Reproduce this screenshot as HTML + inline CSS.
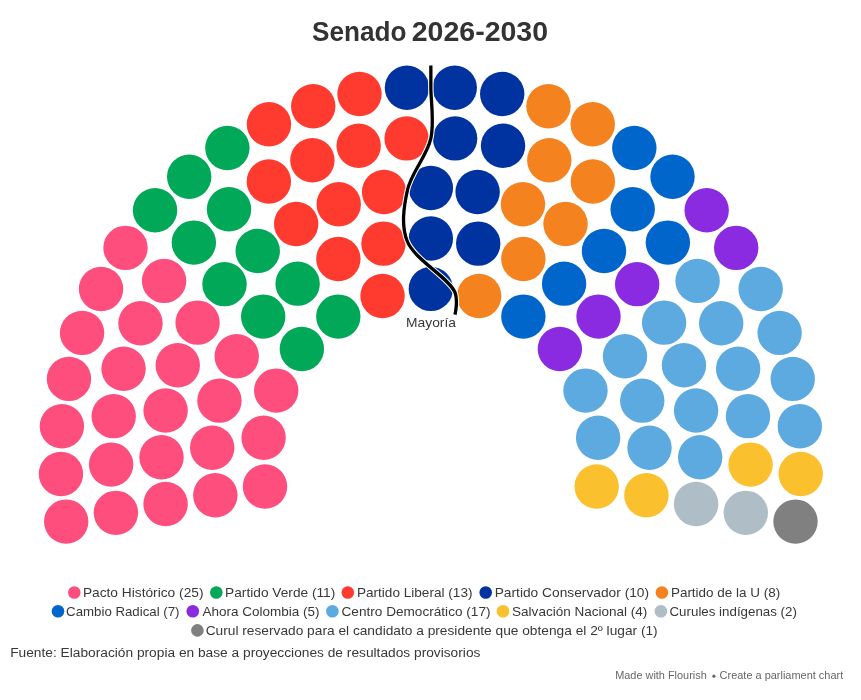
<!DOCTYPE html>
<html><head><meta charset="utf-8"><style>
html,body{margin:0;padding:0;background:#fff;width:861px;height:700px;overflow:hidden}
svg{display:block;will-change:transform}
text{font-family:"Liberation Sans", sans-serif}
</style></head><body>
<svg width="861" height="700" viewBox="0 0 861 700">
<g>
<circle cx="265.01" cy="486.54" r="22.20" fill="#FD4E7E"/>
<circle cx="215.31" cy="495.31" r="22.20" fill="#FD4E7E"/>
<circle cx="165.60" cy="504.07" r="22.20" fill="#FD4E7E"/>
<circle cx="115.90" cy="512.83" r="22.20" fill="#FD4E7E"/>
<circle cx="66.20" cy="521.60" r="22.20" fill="#FD4E7E"/>
<circle cx="60.95" cy="474.05" r="22.20" fill="#FD4E7E"/>
<circle cx="111.12" cy="464.58" r="22.20" fill="#FD4E7E"/>
<circle cx="161.51" cy="457.30" r="22.20" fill="#FD4E7E"/>
<circle cx="212.19" cy="447.75" r="22.20" fill="#FD4E7E"/>
<circle cx="61.88" cy="426.22" r="22.20" fill="#FD4E7E"/>
<circle cx="263.59" cy="437.75" r="22.20" fill="#FD4E7E"/>
<circle cx="113.70" cy="416.16" r="22.20" fill="#FD4E7E"/>
<circle cx="165.60" cy="410.53" r="22.20" fill="#FD4E7E"/>
<circle cx="68.96" cy="378.91" r="22.20" fill="#FD4E7E"/>
<circle cx="219.44" cy="400.65" r="22.20" fill="#FD4E7E"/>
<circle cx="123.56" cy="368.68" r="22.20" fill="#FD4E7E"/>
<circle cx="82.09" cy="332.91" r="22.20" fill="#FD4E7E"/>
<circle cx="177.75" cy="365.18" r="22.20" fill="#FD4E7E"/>
<circle cx="276.22" cy="390.60" r="22.20" fill="#FD4E7E"/>
<circle cx="140.49" cy="323.24" r="22.20" fill="#FD4E7E"/>
<circle cx="101.04" cy="288.98" r="22.20" fill="#FD4E7E"/>
<circle cx="236.71" cy="356.24" r="22.20" fill="#FD4E7E"/>
<circle cx="197.59" cy="322.63" r="22.20" fill="#FD4E7E"/>
<circle cx="164.10" cy="280.89" r="22.20" fill="#FD4E7E"/>
<circle cx="125.49" cy="247.87" r="22.20" fill="#FD4E7E"/>
<circle cx="301.85" cy="349.05" r="22.20" fill="#00A858"/>
<circle cx="263.19" cy="316.61" r="22.20" fill="#00A858"/>
<circle cx="224.52" cy="284.17" r="22.20" fill="#00A858"/>
<circle cx="155.04" cy="210.25" r="22.20" fill="#00A858"/>
<circle cx="193.84" cy="242.58" r="22.20" fill="#00A858"/>
<circle cx="189.19" cy="176.75" r="22.20" fill="#00A858"/>
<circle cx="257.72" cy="250.97" r="22.20" fill="#00A858"/>
<circle cx="229.02" cy="209.22" r="22.20" fill="#00A858"/>
<circle cx="297.61" cy="283.66" r="22.20" fill="#00A858"/>
<circle cx="338.31" cy="316.60" r="22.20" fill="#00A858"/>
<circle cx="227.38" cy="147.94" r="22.20" fill="#00A858"/>
<circle cx="268.85" cy="181.56" r="22.20" fill="#FF3B30"/>
<circle cx="296.18" cy="224.04" r="22.20" fill="#FF3B30"/>
<circle cx="268.96" cy="124.28" r="22.20" fill="#FF3B30"/>
<circle cx="338.35" cy="258.94" r="22.20" fill="#FF3B30"/>
<circle cx="312.40" cy="160.23" r="22.20" fill="#FF3B30"/>
<circle cx="338.73" cy="204.20" r="22.20" fill="#FF3B30"/>
<circle cx="313.24" cy="106.19" r="22.20" fill="#FF3B30"/>
<circle cx="382.55" cy="295.97" r="22.20" fill="#FF3B30"/>
<circle cx="358.67" cy="145.74" r="22.20" fill="#FF3B30"/>
<circle cx="383.48" cy="243.62" r="22.20" fill="#FF3B30"/>
<circle cx="359.49" cy="93.96" r="22.20" fill="#FF3B30"/>
<circle cx="384.08" cy="192.05" r="22.20" fill="#FF3B30"/>
<circle cx="406.60" cy="138.41" r="22.20" fill="#FF3B30"/>
<circle cx="406.93" cy="87.79" r="22.20" fill="#0033A0"/>
<circle cx="430.85" cy="288.90" r="22.20" fill="#0033A0"/>
<circle cx="430.85" cy="238.43" r="22.20" fill="#0033A0"/>
<circle cx="430.85" cy="187.96" r="22.20" fill="#0033A0"/>
<circle cx="454.77" cy="87.79" r="22.20" fill="#0033A0"/>
<circle cx="455.10" cy="138.41" r="22.20" fill="#0033A0"/>
<circle cx="477.62" cy="192.05" r="22.20" fill="#0033A0"/>
<circle cx="502.21" cy="93.96" r="22.20" fill="#0033A0"/>
<circle cx="478.22" cy="243.62" r="22.20" fill="#0033A0"/>
<circle cx="503.03" cy="145.74" r="22.20" fill="#0033A0"/>
<circle cx="479.15" cy="295.97" r="22.20" fill="#F4831F"/>
<circle cx="548.46" cy="106.19" r="22.20" fill="#F4831F"/>
<circle cx="522.97" cy="204.20" r="22.20" fill="#F4831F"/>
<circle cx="549.30" cy="160.23" r="22.20" fill="#F4831F"/>
<circle cx="523.35" cy="258.94" r="22.20" fill="#F4831F"/>
<circle cx="592.74" cy="124.28" r="22.20" fill="#F4831F"/>
<circle cx="565.52" cy="224.04" r="22.20" fill="#F4831F"/>
<circle cx="592.85" cy="181.56" r="22.20" fill="#F4831F"/>
<circle cx="523.39" cy="316.60" r="22.20" fill="#0066CC"/>
<circle cx="634.32" cy="147.94" r="22.20" fill="#0066CC"/>
<circle cx="564.09" cy="283.66" r="22.20" fill="#0066CC"/>
<circle cx="632.68" cy="209.22" r="22.20" fill="#0066CC"/>
<circle cx="603.98" cy="250.97" r="22.20" fill="#0066CC"/>
<circle cx="672.51" cy="176.75" r="22.20" fill="#0066CC"/>
<circle cx="667.86" cy="242.58" r="22.20" fill="#0066CC"/>
<circle cx="706.66" cy="210.25" r="22.20" fill="#8A2BE2"/>
<circle cx="559.85" cy="349.05" r="22.20" fill="#8A2BE2"/>
<circle cx="598.51" cy="316.61" r="22.20" fill="#8A2BE2"/>
<circle cx="637.18" cy="284.17" r="22.20" fill="#8A2BE2"/>
<circle cx="736.21" cy="247.87" r="22.20" fill="#8A2BE2"/>
<circle cx="697.60" cy="280.89" r="22.20" fill="#5DAAE1"/>
<circle cx="664.11" cy="322.63" r="22.20" fill="#5DAAE1"/>
<circle cx="624.99" cy="356.24" r="22.20" fill="#5DAAE1"/>
<circle cx="760.66" cy="288.98" r="22.20" fill="#5DAAE1"/>
<circle cx="721.21" cy="323.24" r="22.20" fill="#5DAAE1"/>
<circle cx="585.48" cy="390.60" r="22.20" fill="#5DAAE1"/>
<circle cx="683.95" cy="365.18" r="22.20" fill="#5DAAE1"/>
<circle cx="779.61" cy="332.91" r="22.20" fill="#5DAAE1"/>
<circle cx="738.14" cy="368.68" r="22.20" fill="#5DAAE1"/>
<circle cx="642.26" cy="400.65" r="22.20" fill="#5DAAE1"/>
<circle cx="792.74" cy="378.91" r="22.20" fill="#5DAAE1"/>
<circle cx="696.10" cy="410.53" r="22.20" fill="#5DAAE1"/>
<circle cx="748.00" cy="416.16" r="22.20" fill="#5DAAE1"/>
<circle cx="598.11" cy="437.75" r="22.20" fill="#5DAAE1"/>
<circle cx="799.82" cy="426.22" r="22.20" fill="#5DAAE1"/>
<circle cx="649.51" cy="447.75" r="22.20" fill="#5DAAE1"/>
<circle cx="700.19" cy="457.30" r="22.20" fill="#5DAAE1"/>
<circle cx="750.58" cy="464.58" r="22.20" fill="#FBC02D"/>
<circle cx="800.75" cy="474.05" r="22.20" fill="#FBC02D"/>
<circle cx="596.69" cy="486.54" r="22.20" fill="#FBC02D"/>
<circle cx="646.39" cy="495.31" r="22.20" fill="#FBC02D"/>
<circle cx="696.10" cy="504.07" r="22.20" fill="#AEBDC6"/>
<circle cx="745.80" cy="512.83" r="22.20" fill="#AEBDC6"/>
<circle cx="795.50" cy="521.60" r="22.20" fill="#808080"/>
</g>
<path d="M430.85,65.59C430.85,65.59 430.85,78.89 430.85,87.79C430.85,101.24 434.43,121.84 430.85,138.41C427.06,155.94 411.31,172.44 407.46,190.01C403.81,206.68 400.96,225.12 407.16,241.02C414.44,259.68 449.26,277.84 455.00,292.44C458.23,300.64 455.00,314.64 455.00,314.64" fill="none" stroke="#fff" stroke-width="5.4"/>
<path d="M430.85,65.59C430.85,65.59 430.85,78.89 430.85,87.79C430.85,101.24 434.43,121.84 430.85,138.41C427.06,155.94 411.31,172.44 407.46,190.01C403.81,206.68 400.96,225.12 407.16,241.02C414.44,259.68 449.26,277.84 455.00,292.44C458.23,300.64 455.00,314.64 455.00,314.64" fill="none" stroke="#000" stroke-width="3.3"/>
<g>
<circle cx="74.30" cy="592.50" r="6.30" fill="#FD4E7E"/>
<text x="82.90" y="597.00" font-size="13.5" fill="#383838" textLength="120.60" lengthAdjust="spacingAndGlyphs">Pacto Histórico (25)</text>
<circle cx="216.30" cy="592.50" r="6.30" fill="#00A858"/>
<text x="225.10" y="597.00" font-size="13.5" fill="#383838" textLength="110.20" lengthAdjust="spacingAndGlyphs">Partido Verde (11)</text>
<circle cx="347.80" cy="592.50" r="6.30" fill="#FF3B30"/>
<text x="356.90" y="597.00" font-size="13.5" fill="#383838" textLength="115.60" lengthAdjust="spacingAndGlyphs">Partido Liberal (13)</text>
<circle cx="485.70" cy="592.50" r="6.30" fill="#0033A0"/>
<text x="494.70" y="597.00" font-size="13.5" fill="#383838" textLength="154.40" lengthAdjust="spacingAndGlyphs">Partido Conservador (10)</text>
<circle cx="661.90" cy="592.50" r="6.30" fill="#F4831F"/>
<text x="670.90" y="597.00" font-size="13.5" fill="#383838" textLength="109.40" lengthAdjust="spacingAndGlyphs">Partido de la U (8)</text>
<circle cx="58.00" cy="611.30" r="6.30" fill="#0066CC"/>
<text x="66.10" y="616.00" font-size="13.5" fill="#383838" textLength="113.40" lengthAdjust="spacingAndGlyphs">Cambio Radical (7)</text>
<circle cx="192.80" cy="611.30" r="6.30" fill="#8A2BE2"/>
<text x="202.50" y="616.00" font-size="13.5" fill="#383838" textLength="117.00" lengthAdjust="spacingAndGlyphs">Ahora Colombia (5)</text>
<circle cx="332.40" cy="611.30" r="6.30" fill="#5DAAE1"/>
<text x="341.50" y="616.00" font-size="13.5" fill="#383838" textLength="149.00" lengthAdjust="spacingAndGlyphs">Centro Democrático (17)</text>
<circle cx="503.00" cy="611.30" r="6.30" fill="#FBC02D"/>
<text x="512.10" y="616.00" font-size="13.5" fill="#383838" textLength="135.20" lengthAdjust="spacingAndGlyphs">Salvación Nacional (4)</text>
<circle cx="660.90" cy="611.30" r="6.30" fill="#AEBDC6"/>
<text x="669.50" y="616.00" font-size="13.5" fill="#383838" textLength="127.40" lengthAdjust="spacingAndGlyphs">Curules indígenas (2)</text>
<circle cx="197.40" cy="630.40" r="6.30" fill="#808080"/>
<text x="205.70" y="635.00" font-size="13.5" fill="#383838" textLength="452.00" lengthAdjust="spacingAndGlyphs">Curul reservado para el candidato a presidente que obtenga el 2º lugar (1)</text>
<text x="312.10" y="41.10" font-size="27" fill="#333" font-weight="bold" textLength="94.40" lengthAdjust="spacingAndGlyphs">Senado</text>
<text x="411.70" y="41.10" font-size="27" fill="#333" font-weight="bold" textLength="136.40" lengthAdjust="spacingAndGlyphs">2026-2030</text>
<text x="406.10" y="326.60" font-size="13.4" fill="#383838" textLength="49.80" lengthAdjust="spacingAndGlyphs">Mayoría</text>
<text x="10.20" y="656.80" font-size="13.7" fill="#383838" textLength="470.20" lengthAdjust="spacingAndGlyphs">Fuente: Elaboración propia en base a proyecciones de resultados provisorios</text>
<text x="615.20" y="678.80" font-size="11" fill="#666" textLength="91.60" lengthAdjust="spacingAndGlyphs">Made with Flourish</text>
<text x="719.60" y="678.80" font-size="11" fill="#666" textLength="123.60" lengthAdjust="spacingAndGlyphs">Create a parliament chart</text>
</g>
<g font-size="11" fill="#666">
<circle cx="713.9" cy="676.2" r="1.6" fill="#666"/>
</g>
</svg>
</body></html>
